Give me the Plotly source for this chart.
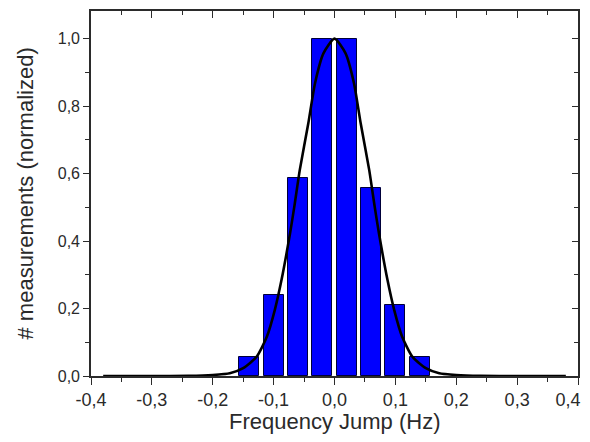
import plotly.graph_objects as go

# Histogram bins (Hz) and normalized counts
bin_centers = [-0.14, -0.10, -0.06, -0.02, 0.02, 0.06, 0.10, 0.14]
bin_counts = [0.056, 0.239, 0.588, 1.000, 0.998, 0.558, 0.210, 0.056]

# Gaussian fit curve
fit_x = [-0.38, -0.30, -0.24, -0.20, -0.172, -0.15, -0.128, -0.111, -0.098,
         -0.087, -0.073, -0.066, -0.057, -0.043, -0.032, -0.018, 0.0,
         0.018, 0.032, 0.043, 0.057, 0.066, 0.073, 0.087, 0.098, 0.111,
         0.128, 0.15, 0.172, 0.20, 0.24, 0.30, 0.38]
fit_y = [0.0, 0.0, 0.0005, 0.003, 0.008, 0.023, 0.057, 0.117, 0.196,
         0.285, 0.423, 0.502, 0.611, 0.749, 0.868, 0.957, 1.0,
         0.957, 0.868, 0.749, 0.611, 0.502, 0.423, 0.285, 0.196, 0.117,
         0.057, 0.023, 0.008, 0.003, 0.0005, 0.0, 0.0]

x_ticks = [-0.4, -0.3, -0.2, -0.1, 0.0, 0.1, 0.2, 0.3, 0.4]
# the last label is padded so that it stays inside the window
x_tick_labels = ["-0,4", "-0,3", "-0,2", "-0,1", "0,0", "0,1", "0,2", "0,3",
                 "0,4\u00a0\u00a0\u00a0\u00a0"]
y_ticks = [0.0, 0.2, 0.4, 0.6, 0.8, 1.0]
y_tick_labels = ["0,0", "0,2", "0,4", "0,6", "0,8", "1,0"]

x_title = "Frequency Jump (Hz)"
y_title = "# measurements (normalized)"

X_RANGE = [-0.4, 0.4]
Y_RANGE = [0.0, 1.082]

AX = "#2b2b2b"
TXT = "#2a2a2a"
FONT = "Liberation Sans, Arial, sans-serif"

fig = go.Figure()
fig.add_trace(go.Bar(
    x=bin_centers, y=bin_counts, width=0.033,
    marker=dict(color="#0000FF", line=dict(color="#00003a", width=1)),
    showlegend=False, hoverinfo="skip"))
fig.add_trace(go.Scatter(
    x=fit_x, y=fit_y, mode="lines",
    line=dict(color="black", width=2.6, shape="spline", smoothing=0.6),
    showlegend=False, hoverinfo="skip"))
# helper trace to create the mirrored (top/right) axes
fig.add_trace(go.Scatter(
    x=X_RANGE, y=Y_RANGE, mode="none", xaxis="x2", yaxis="y2",
    showlegend=False, hoverinfo="skip"))

common = dict(showgrid=False, zeroline=False, showline=True, linecolor=AX, linewidth=1.6,
              tickcolor=AX, tickwidth=1.4, automargin=False)

# The page body has an 8 px margin; the figure is offset accordingly.
fig.update_layout(
    width=582, height=426,
    margin=dict(l=83, r=12, t=3, b=58),
    paper_bgcolor="white", plot_bgcolor="white",
    font=dict(family=FONT, color=TXT),
    bargap=0,
    xaxis=dict(range=X_RANGE, tickvals=x_ticks, ticktext=x_tick_labels, ticks="outside", ticklen=7,
               minor=dict(ticks="outside", ticklen=4, dtick=0.05, tick0=0, tickcolor=AX, tickwidth=1.4),
               tickfont=dict(size=18, color=TXT), ticklabeloverflow="allow",
               **common),
    yaxis=dict(range=Y_RANGE, tickvals=y_ticks, ticktext=y_tick_labels, ticks="outside", ticklen=6,
               minor=dict(ticks="outside", ticklen=4, dtick=0.1, tick0=0, tickcolor=AX, tickwidth=1.4),
               tickfont=dict(size=16, color=TXT),
               **common),
    xaxis2=dict(range=X_RANGE, overlaying="x", side="top", tickvals=x_ticks, ticks="inside", ticklen=7,
                showticklabels=False,
                minor=dict(ticks="inside", ticklen=4, dtick=0.05, tick0=0, tickcolor=AX, tickwidth=1.4),
                **common),
    yaxis2=dict(range=Y_RANGE, overlaying="y", side="right", tickvals=y_ticks, ticks="inside", ticklen=6,
                showticklabels=False,
                minor=dict(ticks="inside", ticklen=4, dtick=0.1, tick0=0, tickcolor=AX, tickwidth=1.4),
                **common),
    annotations=[
        dict(text=x_title, xref="paper", yref="paper", x=0.5, y=-0.1233,
             xanchor="center", yanchor="middle", showarrow=False,
             font=dict(size=22, color=TXT, family=FONT)),
        dict(text=y_title, xref="paper", yref="paper", x=-0.1355, y=0.5,
             xanchor="center", yanchor="middle", showarrow=False, textangle=-90,
             font=dict(size=22, color=TXT, family=FONT)),
    ],
)

fig.write_html("out.html")
